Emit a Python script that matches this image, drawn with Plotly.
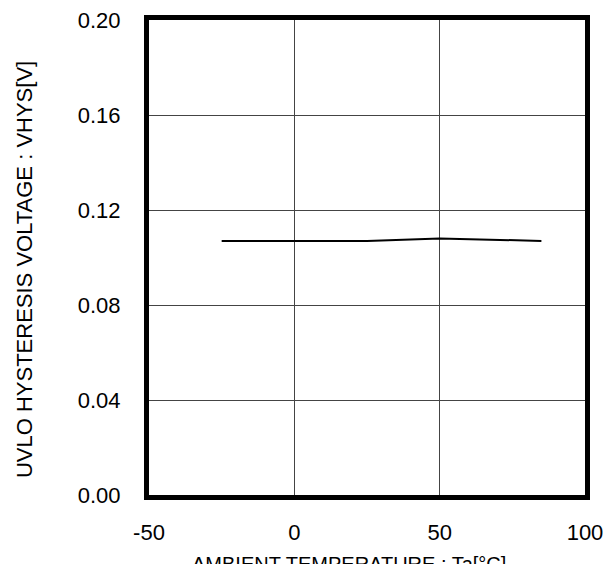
import plotly.graph_objects as go

# ambient temperature [degC] and hysteresis voltage [V]
temp = [-25, 0, 25, 50, 85]
vhys = [0.107, 0.107, 0.107, 0.108, 0.107]

x_ticks = [-50, 0, 50, 100]
y_ticks = [0.00, 0.04, 0.08, 0.12, 0.16, 0.20]

fig = go.Figure()
fig.add_trace(go.Scatter(x=temp, y=vhys, mode="lines",
                         line=dict(color="black", width=2)))

family = "Liberation Sans, Arial, sans-serif"
tick_font = dict(family=family, size=22, color="black")

fig.update_layout(
    width=607, height=564,
    margin=dict(l=149, r=22, t=20, b=69),
    paper_bgcolor="white", plot_bgcolor="white",
    showlegend=False,
    font=tick_font,
    annotations=[
        dict(text="UVLO HYSTERESIS VOLTAGE : VHYS[V]", textangle=-90,
             xref="paper", yref="paper", x=-0.285, y=0.475,
             xanchor="center", yanchor="middle", showarrow=False,
             font=dict(family=family, size=22, color="black")),
        dict(text="AMBIENT TEMPERATURE : Ta[°C]",
             xref="paper", yref="paper", x=0.459, y=-0.117,
             xanchor="center", yanchor="top", showarrow=False,
             font=dict(family=family, size=20, color="black")),
    ],
)
fig.update_xaxes(range=[-50, 100], tickvals=x_ticks, ticktext=[str(v) for v in x_ticks],
                 showgrid=True, gridcolor="#444", gridwidth=1, zeroline=False,
                 showline=True, linecolor="black", linewidth=5, mirror=True,
                 ticklabelstandoff=14, automargin=False)
fig.update_yaxes(range=[0, 0.2], tickvals=y_ticks, ticktext=[f"{v:.2f}" for v in y_ticks],
                 showgrid=True, gridcolor="#444", gridwidth=1, zeroline=False,
                 showline=True, linecolor="black", linewidth=5, mirror=True,
                 ticklabelstandoff=19, automargin=False)

fig.write_html("out.html", config={"displayModeBar": False},
               post_script="document.body.style.margin='0';")
